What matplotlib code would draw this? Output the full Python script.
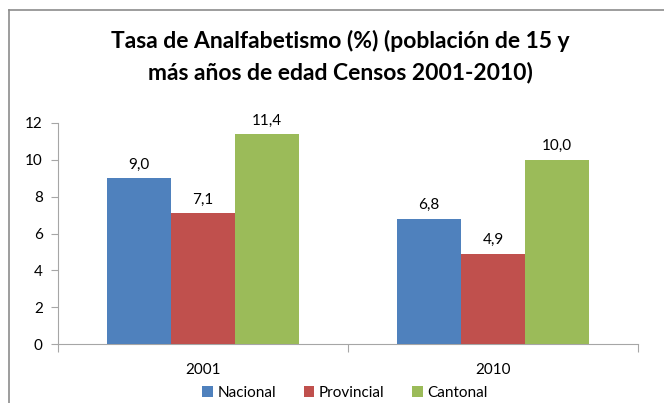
import matplotlib
matplotlib.use("Agg")
import matplotlib.pyplot as plt
import numpy as np

categories = ["2001", "2010"]
series_names = ["Nacional", "Provincial", "Cantonal"]
nacional = [9.0, 6.8]
provincial = [7.1, 4.9]
cantonal = [11.4, 10.0]
colors = ["#4F81BD", "#C0504D", "#9BBB59"]
yticks = [0, 2, 4, 6, 8, 10, 12]

plt.rcParams['font.family'] = ['Lato', 'DejaVu Sans']

W, H = 664, 403
fig = plt.figure(figsize=(W/100, H/100), dpi=100)

# chart border (left and top visible)
fig.add_artist(plt.Line2D([9/W, 9/W], [0, 1-10/H], color="#8C8C8C", lw=1.2))
fig.add_artist(plt.Line2D([9/W, 1], [1-10/H, 1-10/H], color="#8C8C8C", lw=1.2))

x0, x1 = 58, 638
ytop, ybot = 123, 344
ax = fig.add_axes([x0/W, 1-ybot/H, (x1-x0)/W, (ybot-ytop)/H])

vals = [nacional, provincial, cantonal]
x = np.arange(len(categories))
bw = 0.22
for i, (name, v, c) in enumerate(zip(series_names, vals, colors)):
    pos = x + (i-1)*bw
    bars = ax.bar(pos, v, width=bw, color=c, label=name, zorder=3)
    for p, val in zip(pos, v):
        ax.text(p, val + 0.35, f"{val:.1f}".replace(".", ","), ha="center", va="bottom",
                fontsize=11, color="#000000")

ax.set_xlim(-0.5, 1.5)
ax.set_ylim(0, 12)
ax.set_yticks(yticks)
ax.set_yticklabels([str(t) for t in yticks], fontsize=11)
ax.set_xticks([-0.5, 0.5, 1.5], minor=False)
ax.set_xticklabels([])
ax.set_xticks(x, minor=True)
ax.set_xticklabels(categories, minor=True, fontsize=11)
ax.tick_params(axis="x", which="major", length=6, color="#A6A6A6", direction="out")
ax.tick_params(axis="x", which="minor", length=0, pad=14)
ax.tick_params(axis="y", length=5, color="#A6A6A6", direction="out", pad=6)
for s in ["top", "right"]:
    ax.spines[s].set_visible(False)
ax.spines["left"].set_color("#A6A6A6")
ax.spines["bottom"].set_color("#A6A6A6")

fig.text(340/W, 1-48/H, "Tasa de Analfabetismo (%) (población de 15 y",
         ha="center", va="baseline", fontsize=16.5, fontweight="bold")
fig.text(340/W, 1-79/H, "más años de edad Censos 2001-2010)",
         ha="center", va="baseline", fontsize=16.5, fontweight="bold")

leg = fig.legend(loc="center", bbox_to_anchor=(345/W, 1-393/H), ncol=3, frameon=False,
                 fontsize=11, handlelength=0.7, handleheight=0.7, handletextpad=0.3,
                 columnspacing=1.8)

fig.savefig("out.png", dpi=100)
